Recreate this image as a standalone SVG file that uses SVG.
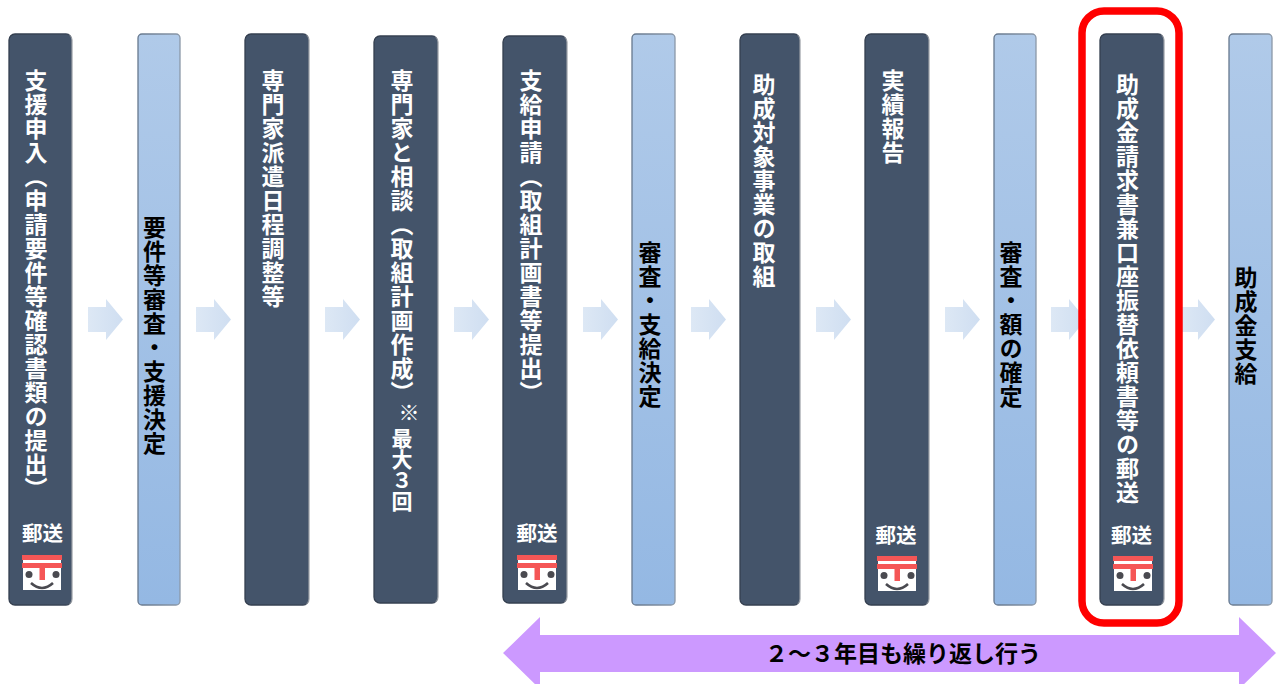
<svg xmlns="http://www.w3.org/2000/svg" width="1277" height="684" viewBox="0 0 1277 684">
<style>
text{font-family:"Noto Sans CJK JP","Liberation Sans",sans-serif;font-weight:700}
.d{fill:#44546a;stroke:url(#ds);stroke-width:1.3}
.b{fill:url(#bg);stroke:url(#bs);stroke-width:1.3}
.v{writing-mode:vertical-rl;font-size:23px;letter-spacing:1px}
.w{fill:#fff}
.k{fill:#000}
.m{font-size:20.500px;fill:#fff;text-anchor:middle}
.a{fill:url(#ag)}
</style>
<defs>
<linearGradient id="bg" x1="0" y1="0" x2="0" y2="1"><stop offset="0" stop-color="#b0cae9"/><stop offset="1" stop-color="#94b8e3"/></linearGradient>
<linearGradient id="ag" x1="0" y1="0" x2="1" y2="0"><stop offset="0" stop-color="#dde8f5"/><stop offset="1" stop-color="#cfdef1"/></linearGradient>
<linearGradient id="ds" x1="0" y1="0" x2="1" y2="0"><stop offset="0" stop-color="#333e4e"/><stop offset="0.94" stop-color="#3a4658"/><stop offset="1" stop-color="#a2a6ac"/></linearGradient>
<linearGradient id="bs" x1="0" y1="0" x2="1" y2="0"><stop offset="0" stop-color="#66788e"/><stop offset="1" stop-color="#8b98a8"/></linearGradient>
<symbol id="post" viewBox="0 0 40 36" width="40" height="36" overflow="visible">
<rect x="1" y="0" width="38" height="35" fill="#fff"/>
<rect x="0" y="0" width="40" height="5" fill="#f55656"/>
<rect x="0" y="8" width="40" height="5" fill="#f55656"/>
<rect x="17.500" y="13" width="5.500" height="12" fill="#f55656"/>
<circle cx="7" cy="19.500" r="3.500" fill="#4a4a50"/>
<circle cx="34" cy="19.500" r="3.500" fill="#4a4a50"/>
<path d="M9 28Q20 38 31 28" fill="none" stroke="#4a4a50" stroke-width="2.600"/>
</symbol>
</defs>
<g id="connectors">
<path class="a" d="M88 307H106V299L123 319.500L106 340V332H88Z"/>
<path class="a" d="M196 307H214V299L231 319.500L214 340V332H196Z"/>
<path class="a" d="M325 307H343V299L360 319.500L343 340V332H325Z"/>
<path class="a" d="M454 307H472V299L489 319.500L472 340V332H454Z"/>
<path class="a" d="M583 307H601V299L618 319.500L601 340V332H583Z"/>
<path class="a" d="M691 307H709V299L726 319.500L709 340V332H691Z"/>
<path class="a" d="M816 307H834V299L851 319.500L834 340V332H816Z"/>
<path class="a" d="M945 307H963V299L980 319.500L963 340V332H945Z"/>
<path class="a" d="M1051 307H1069V299L1086 319.500L1069 340V332H1051Z"/>
<path class="a" d="M1180 307H1198V299L1215 319.500L1198 340V332H1180Z"/>
</g>
<g id="n1"><rect class="d" x="9" y="34" width="63" height="571" rx="6"/><text class="v w" x="36" y="68.500">支援申入（申請要件等確認書類の提出）</text><text class="m" x="42.500" y="541">郵送</text><use href="#post" x="22" y="555"/></g>
<g id="n2"><rect class="b" x="138" y="34" width="42" height="571" rx="4"/><text class="v k" x="154.500" y="216">要件等審査・支援決定</text></g>
<g id="n3"><rect class="d" x="245" y="34" width="64" height="571" rx="6"/><text class="v w" x="273" y="68.500">専門家派遣日程調整等</text></g>
<g id="n4"><rect class="d" x="374" y="36" width="64" height="567" rx="6"/><text class="v w" x="402" y="68.500">専門家と相談（取組計画作成）</text><text class="v w" x="409" y="402" style="font-size:21px;letter-spacing:0">※</text><text class="v w" x="402" y="428" style="font-size:21px;letter-spacing:0">最大３回</text></g>
<g id="n5"><rect class="d" x="503" y="36" width="64" height="567" rx="6"/><text class="v w" x="531" y="68.500">支給申請（取組計画書等提出）</text><text class="m" x="537" y="541">郵送</text><use href="#post" x="517" y="555"/></g>
<g id="n6"><rect class="b" x="632" y="34" width="43" height="571" rx="4"/><text class="v k" x="650" y="240.500">審査・支給決定</text></g>
<g id="n7"><rect class="d" x="740" y="34" width="60" height="571" rx="6"/><text class="v w" x="764" y="72.500">助成対象事業の取組</text></g>
<g id="n8"><rect class="d" x="865" y="34" width="64" height="571" rx="6"/><text class="v w" x="893" y="68.500">実績報告</text><text class="m" x="896" y="543">郵送</text><use href="#post" x="877" y="556"/></g>
<g id="n9"><rect class="b" x="994" y="34" width="42" height="571" rx="4"/><text class="v k" x="1011" y="240.500">審査・額の確定</text></g>
<g id="n10"><rect class="d" x="1100" y="34" width="64" height="571" rx="6"/><text class="v w" x="1127.500" y="73">助成金請求書兼口座振替依頼書等の郵送</text><text class="m" x="1131.500" y="543">郵送</text><use href="#post" x="1113" y="556"/></g>
<g id="n11"><rect class="b" x="1229" y="34" width="43" height="571" rx="4"/><text class="v k" x="1246" y="265.500">助成金支給</text></g>
<g id="highlight"><rect x="1082" y="11" width="97" height="612" rx="22" fill="none" stroke="#ff0000" stroke-width="7.500"/></g>
<g id="repeat"><path d="M503 653L540 617V635H1239V617L1276 653L1239 689V672H540V689Z" fill="#cc99ff"/><text x="903" y="661.500" font-size="23" text-anchor="middle">２～３年目も繰り返し行う</text></g>
</svg>
